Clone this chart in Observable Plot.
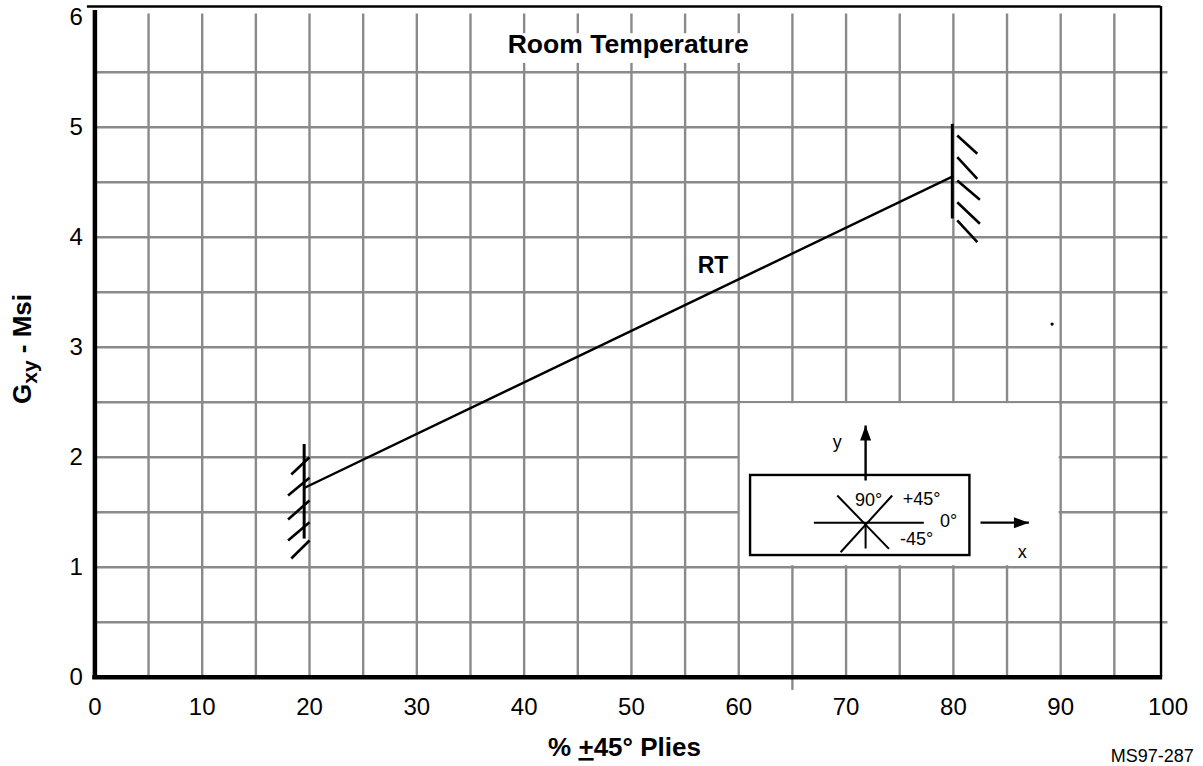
<!DOCTYPE html>
<html><head><meta charset="utf-8">
<script src="https://cdn.jsdelivr.net/npm/d3@7"></script>
<script src="https://cdn.jsdelivr.net/npm/@observablehq/plot@0.6"></script>
<style>body{margin:0;background:#fff;}</style>
</head><body><div id="chart"></div>
<script>
// ---- data ----
const xTicks = [0,10,20,30,40,50,60,70,80,90,100];
const yTicks = [0,1,2,3,4,5,6];
const xGrid = [5,10,15,20,25,30,35,40,45,50,55,60,65,70,75,80,85,90,95];
const yGrid = [0.5,1,1.5,2,2.5,3,3.5,4,4.5,5,5.5];
const rtX = [19.5, 79.9];
const rtY = [1.72, 4.55];
const barX = [19.5, 79.9];
const barYlow = [1.26, 4.17];
const barYhigh = [2.12, 5.03];
const hatchLX1 = [18.3, 18.0, 18.0, 18.0, 18.3];
const hatchLY1 = [1.843, 1.652, 1.434, 1.243, 1.079];
const hatchLX2 = [20.0, 20.0, 20.0, 20.0, 20.0];
const hatchLY2 = [2.0, 1.813, 1.606, 1.409, 1.243];
const hatchRX1 = [80.36, 80.36, 80.36, 80.36, 80.36];
const hatchRY1 = [4.925, 4.727, 4.515, 4.318, 4.152];
const hatchRX2 = [82.23, 82.23, 82.47, 82.47, 82.23];
const hatchRY2 = [4.758, 4.531, 4.34, 4.122, 3.955];
const strayDot = {x: 89.2, y: 3.21};
const seriesLabel = {text: "RT", x: 57.6, y: 3.74};
const titleText = "Room Temperature";
const noteText = "MS97-287";
// inset (fiber orientation diagram)
const insetBox = {x1: 61.1, x2: 81.54, y1: 1.106, y2: 1.834};
const blankArea = {x1: 60, x2: 90, y1: 1, y2: 2.5};
const titleBg = {x1: 38.3, x2: 61.3, y1: 5.58, y2: 5.85};
const starX1 = [67.0, 71.82, 69.18, 74.3];
const starY1 = [1.405, 1.405, 1.652, 1.652];
const starX2 = [77.25, 71.82, 74.0, 69.49];
const starY2 = [1.405, 1.17, 1.167, 1.136];
const insetLabels = ["90°", "+45°", "0°", "-45°", "y", "x"];
const insetLabelX = [72.1, 77.03, 79.55, 76.57, 69.18, 86.42];
const insetLabelY = [1.606, 1.615, 1.415, 1.252, 2.136, 1.136];
const arrowX1 = [71.82, 82.53];
const arrowY1 = [1.788, 1.405];
const arrowX2 = [71.82, 87.04];
const arrowY2 = [2.288, 1.405];
const arrowRot = [0, 90];

const FONT = "'Liberation Sans', Arial, Helvetica, sans-serif";
const gridStyle = {stroke: "#8a8a8a", strokeWidth: 2.4};
const arrowHead = {draw(ctx){ ctx.moveTo(0,0); ctx.lineTo(5.5,15); ctx.lineTo(-5.5,15); ctx.closePath(); }};
const idx5 = d3.range(5);

const plot = Plot.plot({
  width: 1203, height: 766,
  marginLeft: 94.4, marginRight: 35.5, marginTop: 16.7, marginBottom: 89.3,
  x: {domain: [0, 100]},
  y: {domain: [0, 6]},
  style: {fontFamily: FONT, background: "white", color: "black"},
  marks: [
    // grid
    Plot.ruleX(xGrid, {y1: 0, y2: 6.03, ...gridStyle}),
    Plot.ruleY(yGrid, {x1: 0, x2: 100, ...gridStyle}),
    // blanked areas
    Plot.rect([blankArea], {x1: "x1", x2: "x2", y1: "y1", y2: "y2", fill: "white", inset: 1.5}),
    Plot.rect([titleBg], {x1: "x1", x2: "x2", y1: "y1", y2: "y2", fill: "white"}),
    Plot.ruleX([65], {y1: 0, y2: -0.12, ...gridStyle}),
    // frame
    Plot.ruleY([6.097], {x1: -0.7, x2: 99.35, stroke: "black", strokeWidth: 2.6}),
    Plot.ruleX([99.35], {y1: 0, y2: 6.097, stroke: "black", strokeWidth: 2.4}),
    Plot.ruleX([0], {y1: -0.02, y2: 6.06, stroke: "black", strokeWidth: 4.5}),
    Plot.ruleY([0], {x1: -0.2, x2: 99.5, stroke: "black", strokeWidth: 4.5}),
    // axes
    Plot.axisX({ticks: xTicks, tickSize: 0, tickPadding: 21, fontSize: 24, label: null, tickFormat: d => String(d)}),
    Plot.axisY({ticks: yTicks, tickSize: 0, tickPadding: 12, fontSize: 24, label: null, tickFormat: d => String(d)}),
    // data
    Plot.line(rtX.map((x, i) => ({x, y: rtY[i]})), {x: "x", y: "y", stroke: "black", strokeWidth: 2.4}),
    Plot.link(barX, {x1: d => d, x2: d => d, y1: (d, i) => barYlow[i], y2: (d, i) => barYhigh[i], stroke: "black", strokeWidth: 3}),
    Plot.link(idx5, {x1: i => hatchLX1[i], y1: i => hatchLY1[i], x2: i => hatchLX2[i], y2: i => hatchLY2[i], stroke: "black", strokeWidth: 2.6}),
    Plot.link(idx5, {x1: i => hatchRX1[i], y1: i => hatchRY1[i], x2: i => hatchRX2[i], y2: i => hatchRY2[i], stroke: "black", strokeWidth: 2.6}),
    Plot.dot([strayDot], {x: "x", y: "y", r: 1.6, fill: "black"}),
    Plot.text([seriesLabel], {x: "x", y: "y", text: "text", fontSize: 23, fontWeight: "bold"}),
    Plot.text([titleText], {x: 49.7, y: 5.75, text: d => d, fontSize: 26.5, fontWeight: "bold"}),
    // inset
    Plot.rect([insetBox], {x1: "x1", x2: "x2", y1: "y1", y2: "y2", fill: "white", stroke: "black", strokeWidth: 2.4}),
    Plot.link(d3.range(4), {x1: i => starX1[i], y1: i => starY1[i], x2: i => starX2[i], y2: i => starY2[i], stroke: "black", strokeWidth: 2}),
    Plot.text(insetLabels, {x: (d, i) => insetLabelX[i], y: (d, i) => insetLabelY[i], text: d => d, fontSize: 18}),
    Plot.link(d3.range(2), {x1: i => arrowX1[i], y1: i => arrowY1[i], x2: i => arrowX2[i], y2: i => arrowY2[i], stroke: "black", strokeWidth: 2.4}),
    Plot.dot(d3.range(2), {x: i => arrowX2[i], y: i => arrowY2[i], symbol: arrowHead, rotate: i => arrowRot[i], fill: "black", stroke: "none"}),
    // note
    Plot.text([noteText], {x: 102.4, y: -0.72, text: d => d, textAnchor: "end", fontSize: 18})
  ]
});

const svg = d3.select(plot);
// y-axis title with subscript
const yt = svg.append("text")
  .attr("transform", "translate(31,349) rotate(-90)")
  .attr("text-anchor", "middle")
  .attr("font-family", FONT).attr("font-weight", "bold").attr("font-size", 26).attr("fill", "black");
yt.append("tspan").text("G");
yt.append("tspan").attr("font-size", 21).attr("dy", 6).text("xy");
yt.append("tspan").attr("dy", -6).text(" - Msi");
// x-axis title with underlined plus
const xt = svg.append("text")
  .attr("x", plot.scale("x").apply(49.4)).attr("y", 756)
  .attr("text-anchor", "middle")
  .attr("font-family", FONT).attr("font-weight", "bold").attr("font-size", 26).attr("fill", "black");
xt.append("tspan").text("% ");
xt.append("tspan").style("text-decoration", "underline").text("+");
xt.append("tspan").text("45° Plies");

document.getElementById("chart").appendChild(plot);
</script>
</body></html>
